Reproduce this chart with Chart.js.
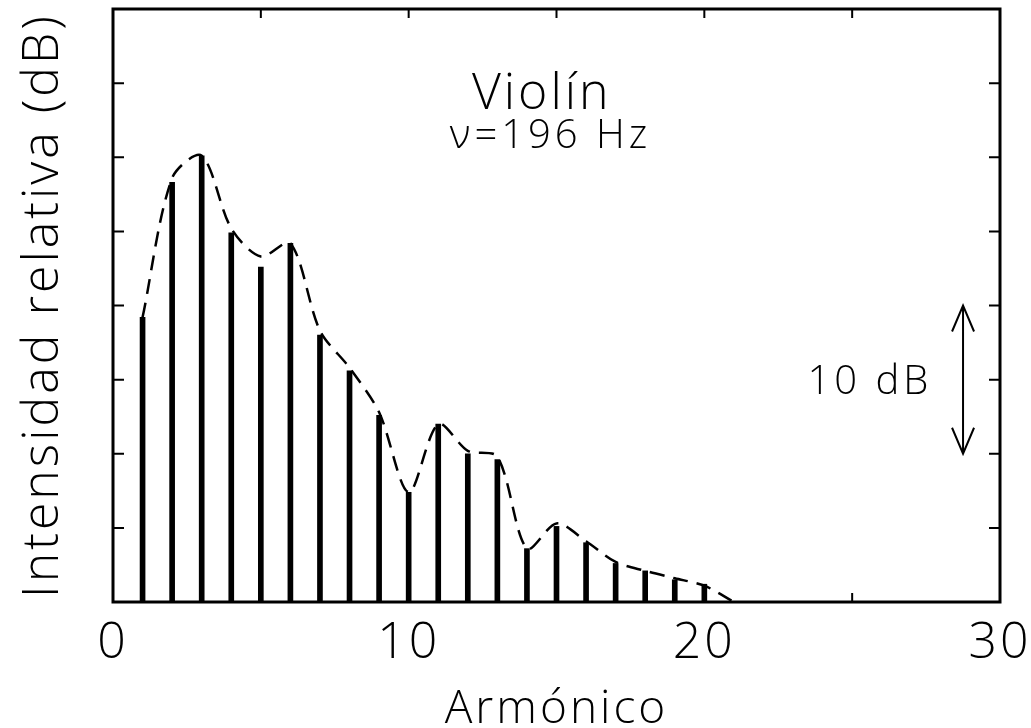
<!DOCTYPE html>
<html>
<head>
<meta charset="utf-8">
<script src="https://cdn.jsdelivr.net/npm/chart.js@4"></script>
<style>
  html, body { margin: 0; padding: 0; background: #fff; }
  #wrap { width: 1031px; height: 728px; }
</style>
</head>
<body>
<div id="wrap"><canvas id="chart" width="1031" height="728"></canvas></div>
<script>
// --- data ---
const harmonics = [1, 2, 3, 4, 5, 6, 7, 8, 9, 10, 11, 12, 13, 14, 15, 16, 17, 18, 19, 20];
const levels = [19.2, 28.3, 30.1, 24.9, 22.6, 24.2, 18.0, 15.6, 12.6, 7.4, 12.0, 10.0, 9.6, 3.6, 5.1, 4.0, 2.6, 2.1, 1.5, 1.2];
// dashed envelope (dB) at each harmonic
const envHarmonics = [1, 2, 3, 4, 5, 6, 7, 8, 9, 10, 11, 12, 13, 14, 15, 16, 17, 18, 19, 20, 21];
const envLevels = [19.2, 28.6, 30.1, 25.2, 23.3, 24.2, 18.3, 15.8, 12.8, 7.4, 12.0, 10.2, 9.8, 3.6, 5.3, 4.1, 2.7, 2.1, 1.6, 1.1, 0];
const xTicks = [0, 10, 20, 30];
const minorX = [5, 10, 15, 20, 25];
const minorY = [5, 10, 15, 20, 25, 30, 35];

const FONT = "'Open Sans', 'Liberation Sans', sans-serif";

// texto espaciado como en el original
const spacing = {
    id: 'spacing',
    beforeDraw(chart) { chart.ctx.letterSpacing = '3px'; }
};

// marco, marcas interiores y anotaciones
const decorations = {
    id: 'decorations',
    afterDraw(chart) {
        const { ctx, chartArea: a, scales: { x, y } } = chart;
        ctx.save();
        ctx.strokeStyle = '#000';
        ctx.fillStyle = '#000';

        // ticks hacia dentro
        ctx.lineWidth = 2;
        ctx.beginPath();
        minorX.forEach(v => {
            const px = x.getPixelForValue(v);
            ctx.moveTo(px, a.top); ctx.lineTo(px, a.top + 9);
            ctx.moveTo(px, a.bottom); ctx.lineTo(px, a.bottom - 9);
        });
        minorY.forEach(v => {
            const py = y.getPixelForValue(v);
            ctx.moveTo(a.left, py); ctx.lineTo(a.left + 11, py);
            ctx.moveTo(a.right, py); ctx.lineTo(a.right - 11, py);
        });
        ctx.stroke();

        // marco
        ctx.lineWidth = 3;
        ctx.strokeRect(a.left, a.top, a.right - a.left, a.bottom - a.top);

        // textos
        ctx.textAlign = 'center';
        ctx.textBaseline = 'middle';
        ctx.font = '300 50px ' + FONT;
        ctx.letterSpacing = '3px';
        ctx.fillText('Violín', x.getPixelForValue(14.5), y.getPixelForValue(34.2));
        ctx.font = '300 40px ' + FONT;
        ctx.letterSpacing = '4px';
        ctx.fillText('\u03BD=196 Hz', x.getPixelForValue(14.8), y.getPixelForValue(31.4));
        ctx.fillText('10 dB', x.getPixelForValue(25.6), y.getPixelForValue(14.8));
        ctx.letterSpacing = '0px';

        // flecha de 10 dB
        const ax = x.getPixelForValue(28.75);
        const y1 = y.getPixelForValue(20), y2 = y.getPixelForValue(10);
        ctx.lineWidth = 2;
        ctx.beginPath();
        ctx.moveTo(ax, y1); ctx.lineTo(ax, y2);
        ctx.moveTo(ax - 11, y1 + 26); ctx.lineTo(ax, y1); ctx.lineTo(ax + 11, y1 + 26);
        ctx.moveTo(ax - 11, y2 - 26); ctx.lineTo(ax, y2); ctx.lineTo(ax + 11, y2 - 26);
        ctx.stroke();
        ctx.restore();
    }
};

const ctx = document.getElementById('chart').getContext('2d');
new Chart(ctx, {
    type: 'bar',
    data: {
        datasets: [{
            type: 'line',
            label: 'Envolvente',
            data: envHarmonics.map((h, i) => ({ x: h, y: envLevels[i] })),
            borderColor: '#000',
            borderWidth: 2.5,
            borderDash: [15, 9],
            pointRadius: 0,
            tension: 0.3,
            fill: false
        }, {
            type: 'bar',
            label: 'Armónicos',
            data: harmonics.map((h, i) => ({ x: h, y: levels[i] })),
            backgroundColor: '#000',
            barThickness: 5
        }]
    },
    plugins: [spacing, decorations],
    options: {
        responsive: false,
        animation: false,
        layout: { padding: { top: 9, right: 0, left: 0, bottom: 0 } },
        plugins: { legend: { display: false }, tooltip: { enabled: false } },
        scales: {
            x: {
                type: 'linear',
                min: 0, max: 30,
                offset: false,
                afterBuildTicks: s => { s.ticks = xTicks.map(v => ({ value: v })); },
                grid: { display: false, drawTicks: false, offset: false },
                border: { display: false },
                ticks: { color: '#000', padding: 12, font: { family: FONT, size: 50, weight: 300 } },
                title: {
                    display: true, text: 'Armónico', color: '#000',
                    font: { family: FONT, size: 46, weight: 300, lineHeight: 0.8 }, padding: { top: 0, bottom: 0 }
                },
                afterFit: s => { s.height = 126; s.paddingRight = 31; }
            },
            y: {
                min: 0, max: 40,
                grid: { display: false, drawTicks: false },
                border: { display: false },
                ticks: { display: false },
                title: {
                    display: true, text: 'Intensidad relativa (dB)', color: '#000',
                    font: { family: FONT, size: 50, weight: 300 }, padding: { top: 14, bottom: 0 }
                },
                afterFit: s => { s.width = 113; }
            }
        }
    }
});
</script>
</body>
</html>
